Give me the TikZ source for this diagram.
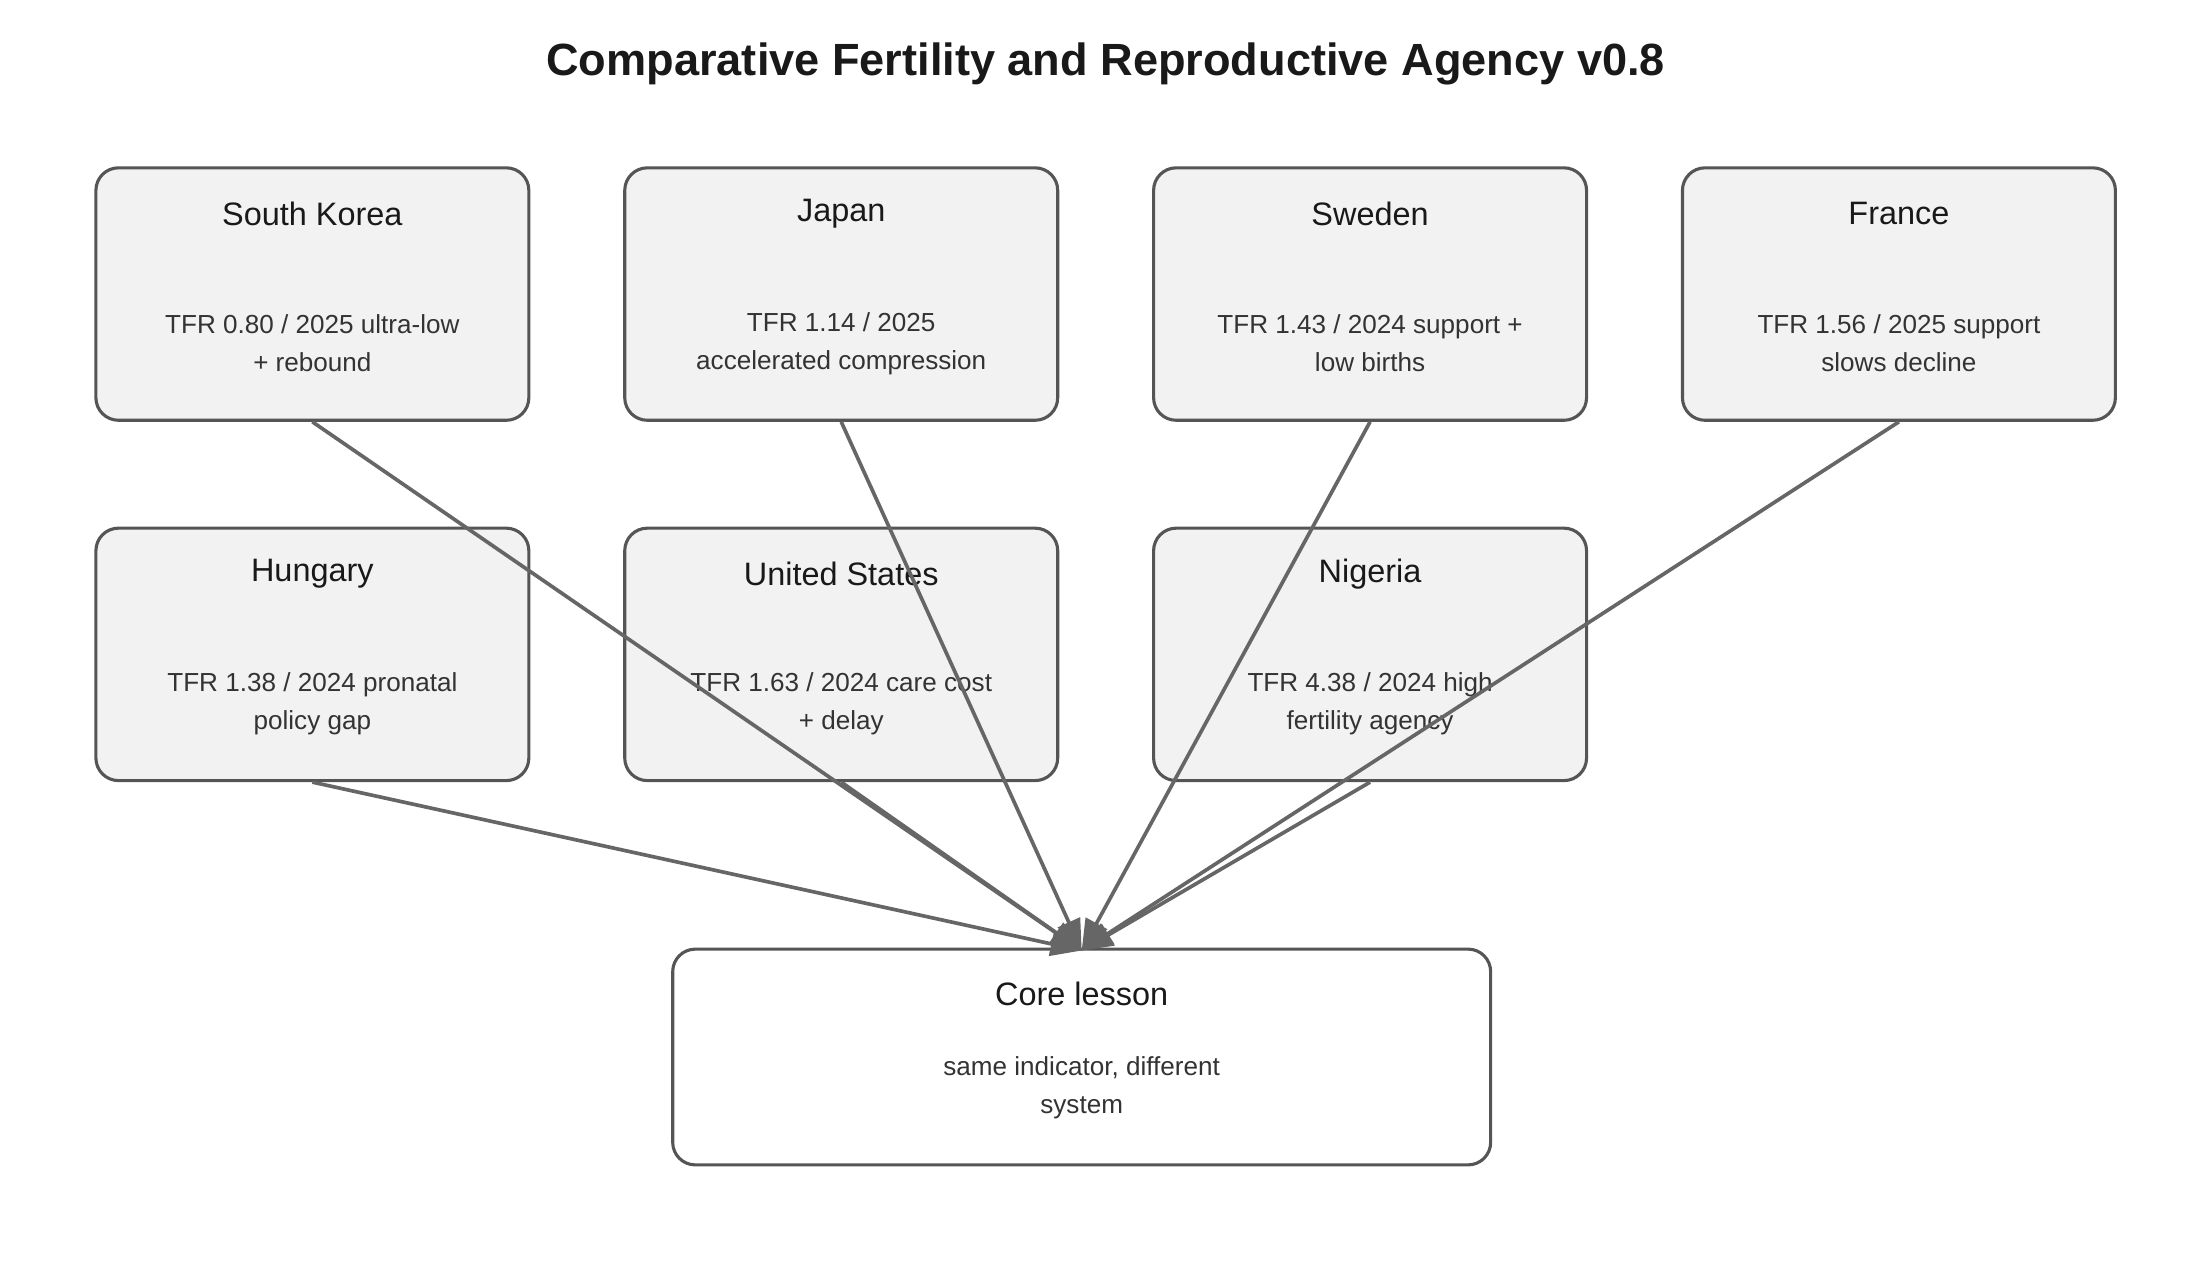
\documentclass[tikz,border=0pt]{standalone}
\usepackage{fontspec}
\setmainfont{Liberation Sans}
\usetikzlibrary{arrows.meta}
\definecolor{boxfill}{HTML}{F2F2F2}
\definecolor{boxline}{HTML}{555555}
\definecolor{arr}{HTML}{666666}
\definecolor{txt}{HTML}{333333}
\begin{document}
\begin{tikzpicture}[x=1pt,y=-1pt,
  box/.style={draw=boxline,line width=2.2pt,fill=boxfill,rounded corners=16pt,minimum width=307pt,minimum height=179pt,inner sep=0pt},
  hd/.style={font=\fontsize{23}{27}\selectfont,text=black!90},
  bd/.style={font=\fontsize{18.5}{27}\selectfont,text=txt,align=center},
  con/.style={draw=arr,line width=2.6pt,-{Triangle[length=22pt,width=17pt]}}]
\useasboundingbox (0,0) rectangle (1560,898);
\node[font=\fontsize{32}{38}\bfseries\selectfont,text=black!90] (title) at (784,45) {Comparative Fertility and Reproductive Agency v0.8};
\foreach \n/\x/\y/\h/\b in {sk/221.5/208.5/South Korea/{TFR 0.80 / 2025 ultra-low\\+ rebound},
  jp/596.5/208.5/Japan/{TFR 1.14 / 2025\\accelerated compression},
  se/971.5/208.5/Sweden/{TFR 1.43 / 2024 support +\\low births},
  fr/1346.5/208.5/France/{TFR 1.56 / 2025 support\\slows decline},
  hu/221.5/464/Hungary/{TFR 1.38 / 2024 pronatal\\policy gap},
  us/596.5/464/United States/{TFR 1.63 / 2024 care cost\\+ delay},
  ng/971.5/464/Nigeria/{TFR 4.38 / 2024 high\\fertility agency}}{
  \node[box] (\n) at (\x,\y) {};
  \node[hd] (\n-h) at (\x,\y-57) {\h};
  \node[bd] (\n-b) at (\x,\y+35) {\b};
}
\node[box,fill=white,minimum width=580pt,minimum height=153pt] (core) at (767,749.5) {};
\node[hd] (core-h) at (767,705) {Core lesson};
\node[bd] (core-b) at (767,771) {same indicator, different\\system};
\coordinate (tip) at (767,674);
\foreach \n in {sk,jp,se,fr,hu,us,ng}{\draw[con] (\n.south) -- (tip);}
\end{tikzpicture}
\end{document}
